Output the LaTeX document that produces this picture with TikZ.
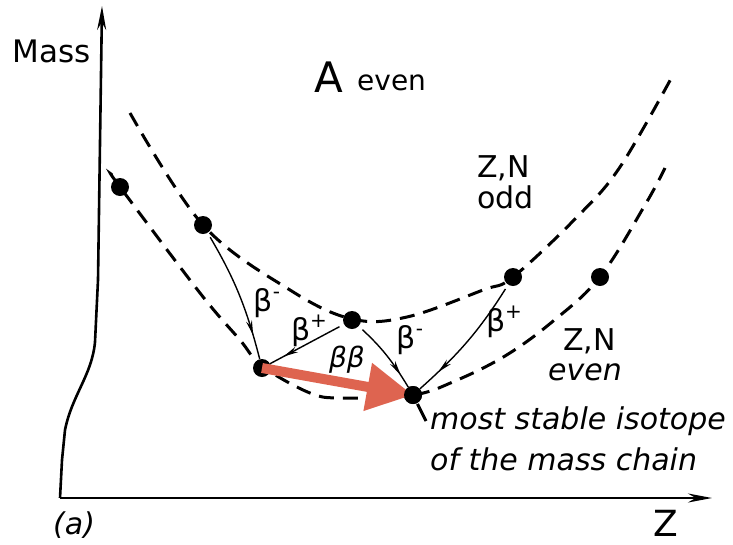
\documentclass[tikz,border=0pt]{standalone}
\usepackage{fontspec}
\setmainfont{DejaVu Sans}
\usetikzlibrary{arrows.meta,decorations.markings}
\definecolor{redarrow}{RGB}{222,100,80}
\newcommand\betalbl[1]{β\raisebox{0.42em}{\fontsize{20}{20}\selectfont #1}}
\begin{document}
\begin{tikzpicture}[x=1pt,y=-1pt,
  axisline/.style={line width=2.6pt,-{Stealth[length=24pt,width=9pt]}},
  parab/.style={line width=3pt,dash pattern=on 15pt off 9pt},
  dotnode/.style={circle,fill=black,inner sep=0pt,minimum size=18pt},
  decay/.style={line width=1.4pt,shorten <=5pt,postaction={decorate},
    decoration={markings,mark=at position 0.82 with {\arrow{Stealth[length=15pt,width=6pt]}}}},
  lbl/.style={inner sep=0pt,font=\fontsize{30}{36}\selectfont},
  txt/.style={inner sep=0pt,anchor=base west,font=\fontsize{30}{36}\selectfont},
  itxt/.style={txt,font=\fontsize{30}{36}\selectfont\itshape}]
\useasboundingbox (0,0) rectangle (733,544);
% axes
\coordinate (orig) at (60,498);
\coordinate (ytip) at (102,6);
\coordinate (xtip) at (712,498);
\draw[axisline] (orig) -- (62,460) -- (65,430) .. controls (72,395) and (92,375) .. (95,342) -- (98,280) -- (ytip);
\draw[axisline] (orig) -- (xtip);
% parabolas
\draw[parab] plot[smooth,tension=0.6] coordinates {(130,113) (203,225) (290,290) (352,319) (407,317) (483,290) (513,277) (577,217) (620,167) (673,75)};
\draw[parab] plot[smooth,tension=0.6] coordinates {(112,175) (120,187) (200,293) (240,340) (262,366) (310,393) (343,398) (413,395) (455,381) (505,356) (552,322) (600,277) (645,205) (665,168)};
% dots
\node[dotnode] (u1) at (203,225) {};
\node[dotnode] (u2) at (352,320) {};
\node[dotnode] (u3) at (513,277) {};
\node[dotnode] (l1) at (120,187) {};
\node[dotnode] (l2) at (262,368) {};
\node[dotnode] (l3) at (413,395) {};
\node[dotnode] (l4) at (600,277) {};
% leader
\coordinate (lead) at (426,421);
\draw[line width=3pt,shorten <=10pt] (l3.center) -- (lead);
% red arrow
\draw[redarrow,line width=10pt,-{Triangle[length=46pt,width=46pt]}] (l2.center) -- (l3.center);
\node[dotnode] at (l3) {};
% decays
\draw[decay] (u1) to[bend left=8] (l2);
\draw[decay] (u2) -- (l2);
\draw[decay] (u2) to[bend left=8] (l3);
\draw[decay] (u3) to[bend left=8] (l3);
% labels
\node[lbl] (b1) at (267,303) {\betalbl{-}};
\node[lbl] (b2) at (309,331) {\betalbl{+}};
\node[lbl,font=\fontsize{28}{34}\selectfont\itshape] (b3) at (347,360) {ββ};
\node[lbl] (b4) at (410,340) {\betalbl{-}};
\node[lbl] (b5) at (504,322) {\betalbl{+}};
% texts
\node[lbl,font=\fontsize{31}{36}\selectfont] (mass) at (52,51) {Mass};
\node[txt,font=\fontsize{42}{48}\selectfont] (A) at (314,92) {A};
\node[txt,font=\fontsize{28}{34}\selectfont] (even1) at (357,90) {even};
\node[txt] (zn1) at (477,177) {Z,N};
\node[txt] (odd) at (477,208) {odd};
\node[txt] (zn2) at (563,350) {Z,N};
\node[itxt] (even2) at (548,380) {even};
\node[itxt] (most) at (430,429) {most stable isotope};
\node[itxt] (chain) at (430,470) {of the mass chain};
\node[itxt] (a) at (53,534) {(a)};
\node[txt,font=\fontsize{36}{42}\selectfont] (Z) at (653,536) {Z};
\end{tikzpicture}
\end{document}
